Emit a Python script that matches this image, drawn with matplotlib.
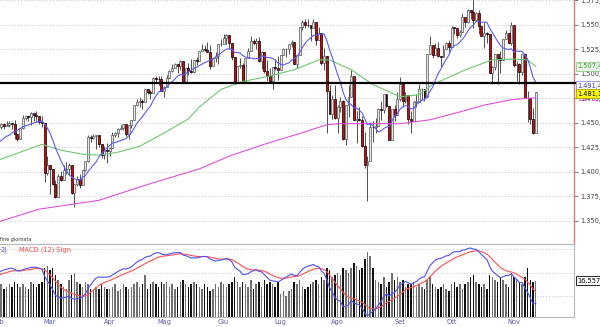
import numpy as np
import pandas as pd
import matplotlib
matplotlib.use("Agg")
import matplotlib.pyplot as plt
from matplotlib.ticker import FuncFormatter

# January closes, only used to warm up the moving average and the MACD
warmup_closes = [1416.6, 1418.3, 1409.7, 1412.8, 1412.1, 1414.9, 1423.8, 1430.7, 1431.9, 1430.6,
                 1426.4, 1430.5, 1423.0, 1428.0, 1440.1, 1423.9, 1422.2, 1420.6, 1428.8, 1438.2]

holidays = ['2007-02-19', '2007-04-06', '2007-05-28', '2007-07-04', '2007-09-03']
month_names = ['Feb', 'Mar', 'Apr', 'Mag', 'Giu', 'Lug', 'Ago', 'Set', 'Ott', 'Nov']

opens = [
    1438.2, 1445.9, 1448.4, 1447.0, 1448.0, 1450.0, 1448.3, 1438.1, 1433.4, 1444.3, 1455.3, 1456.8, 1455.5, 1459.7, 1457.6, 1456.4, 1451.2, 1449.4, 1399.0,
    1406.8, 1403.2, 1387.2, 1374.1, 1395.4, 1392.0, 1401.9, 1402.8, 1406.6, 1378.0, 1387.2, 1392.3, 1387.0, 1402.1, 1410.9, 1435.0, 1434.5, 1436.1, 1437.5, 1428.6, 1417.2, 1422.5,
    1420.9, 1424.6, 1437.8, 1439.4, 1443.8, 1444.6, 1448.4, 1438.9, 1447.8, 1452.9, 1468.3, 1471.5, 1472.5, 1470.7, 1484.4, 1480.9, 1480.4, 1495.4, 1494.3, 1494.1,
    1482.4, 1486.3, 1495.9, 1502.4, 1505.6, 1509.5, 1507.7, 1512.6, 1491.5, 1505.9, 1503.2, 1501.2, 1514.1, 1512.8, 1522.8, 1525.1, 1524.1, 1522.3, 1507.5, 1515.7, 1518.1, 1530.2,
    1530.6, 1536.3, 1539.2, 1531.0, 1517.4, 1490.7, 1507.7, 1509.1, 1493.0, 1515.7, 1523.0, 1532.9, 1531.1, 1533.7, 1512.8, 1522.2, 1502.6, 1497.7, 1492.9, 1506.3, 1505.7,
    1503.4, 1519.4, 1524.9, 1525.4, 1530.4, 1531.9, 1510.1, 1518.8, 1547.7, 1552.5, 1549.5, 1549.4, 1546.2, 1553.1, 1534.1, 1541.6, 1511.0, 1518.1, 1482.7, 1459.0, 1473.9,
    1455.3, 1465.8, 1472.2, 1433.1, 1467.7, 1476.7, 1497.5, 1453.1, 1453.6, 1452.9, 1426.5, 1406.7, 1411.3, 1445.9, 1445.6, 1447.1, 1464.1, 1462.5, 1479.4, 1466.8, 1432.4, 1463.8, 1457.6,
    1474.0, 1489.4, 1472.3, 1478.6, 1453.6, 1451.7, 1471.5, 1471.6, 1484.0, 1484.3, 1476.7, 1519.8, 1529.0, 1518.8, 1525.8, 1517.7, 1517.2, 1525.4, 1531.4,
    1526.8, 1547.0, 1546.6, 1539.6, 1542.8, 1557.6, 1552.6, 1565.2, 1562.5, 1554.4, 1561.8, 1548.7, 1538.5, 1541.2, 1540.1, 1500.6, 1506.3, 1519.6, 1515.9, 1514.4, 1535.3, 1541.0, 1531.0,
    1549.4, 1508.4, 1509.7, 1502.2, 1520.3, 1475.6, 1474.8, 1453.7, 1439.2]
highs = [
    1446.6, 1449.3, 1449.4, 1452.0, 1451.6, 1450.5, 1453.0, 1438.1, 1444.4, 1457.7, 1457.0, 1456.8, 1460.5, 1459.7, 1461.6, 1456.4, 1456.9, 1449.4, 1415.9,
    1406.8, 1403.2, 1391.9, 1397.9, 1401.2, 1407.1, 1410.1, 1409.3, 1406.6, 1388.1, 1395.7, 1397.5, 1403.2, 1411.5, 1437.8, 1437.7, 1438.9, 1437.7, 1437.5, 1428.6, 1426.2, 1429.2,
    1425.5, 1440.6, 1440.2, 1444.9, 1448.1, 1448.7, 1448.4, 1448.0, 1453.1, 1468.6, 1474.4, 1476.6, 1474.2, 1484.7, 1484.8, 1483.8, 1496.6, 1498.0, 1497.3, 1497.2,
    1487.3, 1499.1, 1503.3, 1510.3, 1511.0, 1509.5, 1513.8, 1512.6, 1506.2, 1510.9, 1514.8, 1514.2, 1517.1, 1522.8, 1529.9, 1529.2, 1532.4, 1529.3, 1517.4, 1521.8, 1530.2, 1535.6,
    1540.6, 1540.5, 1539.2, 1531.0, 1517.4, 1507.8, 1515.5, 1511.3, 1515.7, 1526.5, 1538.7, 1535.4, 1535.9, 1537.3, 1522.9, 1522.2, 1514.3, 1506.1, 1506.8, 1514.8, 1517.5,
    1519.4, 1526.0, 1526.6, 1530.4, 1534.3, 1531.9, 1519.4, 1547.9, 1555.1, 1555.9, 1555.3, 1549.4, 1555.9, 1553.1, 1547.2, 1541.6, 1526.0, 1518.1, 1488.5, 1477.9, 1488.3,
    1468.4, 1476.4, 1473.2, 1467.7, 1488.3, 1503.9, 1497.5, 1462.0, 1466.3, 1456.7, 1440.8, 1415.9, 1450.3, 1451.8, 1455.0, 1464.9, 1472.4, 1479.4, 1479.4, 1466.8, 1463.8, 1468.4, 1481.5,
    1496.4, 1489.4, 1481.5, 1478.6, 1462.0, 1472.5, 1479.5, 1489.6, 1485.9, 1484.3, 1519.9, 1538.7, 1529.1, 1530.9, 1532.0, 1518.3, 1529.4, 1532.5, 1533.8,
    1549.0, 1548.0, 1546.6, 1544.8, 1561.9, 1557.6, 1565.4, 1565.3, 1576.1, 1563.0, 1564.7, 1548.7, 1552.8, 1542.2, 1540.1, 1508.1, 1520.0, 1519.6, 1523.2, 1535.3, 1544.7, 1541.0, 1552.8,
    1549.4, 1513.2, 1510.8, 1520.5, 1520.3, 1482.5, 1474.8, 1464.9, 1481.4]
lows = [
    1437.9, 1443.9, 1443.9, 1446.4, 1446.0, 1443.4, 1433.4, 1431.6, 1433.2, 1443.6, 1453.2, 1451.6, 1447.9, 1452.0, 1450.5, 1448.4, 1445.5, 1389.4, 1396.7,
    1377.7, 1386.9, 1373.5, 1374.1, 1390.6, 1392.0, 1397.3, 1396.3, 1377.7, 1364.0, 1385.2, 1383.6, 1387.0, 1400.7, 1409.8, 1429.9, 1433.2, 1423.3, 1425.5, 1414.1, 1413.3, 1408.9,
    1416.4, 1424.6, 1435.1, 1436.0, 1443.3, 1443.0, 1436.2, 1433.9, 1444.5, 1452.9, 1467.2, 1466.4, 1464.5, 1470.7, 1479.3, 1473.7, 1480.4, 1491.5, 1488.7, 1482.3,
    1476.7, 1486.3, 1495.6, 1501.8, 1505.6, 1500.7, 1503.8, 1491.4, 1491.5, 1498.3, 1500.4, 1500.4, 1509.3, 1512.8, 1522.7, 1522.6, 1521.9, 1505.2, 1507.5, 1512.0, 1510.1, 1528.3,
    1530.6, 1530.6, 1525.6, 1514.0, 1490.4, 1490.7, 1505.8, 1492.9, 1492.7, 1515.7, 1523.0, 1529.3, 1525.1, 1512.4, 1504.8, 1500.7, 1492.7, 1490.5, 1484.2, 1503.4, 1493.6,
    1503.4, 1519.4, 1517.3, 1520.3, 1527.5, 1510.0, 1506.1, 1518.7, 1544.9, 1546.7, 1547.4, 1533.7, 1546.2, 1529.2, 1534.1, 1508.6, 1503.6, 1440.0, 1458.9, 1454.3, 1454.3,
    1439.6, 1460.6, 1432.8, 1427.4, 1455.8, 1476.7, 1453.1, 1429.7, 1451.5, 1424.9, 1404.4, 1370.6, 1411.3, 1430.5, 1439.8, 1447.1, 1453.3, 1460.0, 1465.9, 1432.0, 1432.0, 1451.3, 1457.6,
    1472.2, 1466.0, 1470.1, 1449.1, 1439.3, 1451.7, 1465.8, 1471.4, 1473.2, 1471.8, 1476.7, 1519.8, 1516.2, 1518.8, 1516.5, 1507.1, 1517.2, 1525.4, 1521.8,
    1526.8, 1540.4, 1536.3, 1537.6, 1542.8, 1547.8, 1551.4, 1555.5, 1546.7, 1554.4, 1540.8, 1537.9, 1526.0, 1530.9, 1500.3, 1489.6, 1503.6, 1489.6, 1500.5, 1514.4, 1535.3, 1529.9, 1529.4,
    1507.3, 1492.5, 1489.6, 1499.1, 1475.0, 1450.3, 1448.5, 1438.5, 1439.2]
closes = [
    1445.9, 1448.4, 1447.0, 1448.0, 1450.0, 1448.3, 1438.1, 1433.4, 1444.3, 1455.3, 1456.8, 1455.5, 1459.7, 1457.6, 1456.4, 1451.2, 1449.4, 1399.0, 1406.8,
    1403.2, 1387.2, 1374.1, 1395.4, 1392.0, 1401.9, 1402.8, 1406.6, 1378.0, 1387.2, 1392.3, 1387.0, 1402.1, 1410.9, 1435.0, 1434.5, 1436.1, 1437.5, 1428.6, 1417.2, 1422.5, 1420.9,
    1424.6, 1437.8, 1439.4, 1443.8, 1444.6, 1448.4, 1438.9, 1447.8, 1452.9, 1468.3, 1471.5, 1472.5, 1470.7, 1484.4, 1480.9, 1480.4, 1495.4, 1494.3, 1494.1, 1482.4,
    1486.3, 1495.9, 1502.4, 1505.6, 1509.5, 1507.7, 1512.6, 1491.5, 1505.9, 1503.2, 1501.2, 1514.1, 1512.8, 1522.8, 1525.1, 1524.1, 1522.3, 1507.5, 1515.7, 1518.1, 1530.2, 1530.6,
    1536.3, 1539.2, 1531.0, 1517.4, 1490.7, 1507.7, 1509.1, 1493.0, 1515.7, 1523.0, 1532.9, 1531.1, 1533.7, 1512.8, 1522.2, 1502.6, 1497.7, 1492.9, 1506.3, 1505.7, 1503.4,
    1519.4, 1524.9, 1525.4, 1530.4, 1531.9, 1510.1, 1518.8, 1547.7, 1552.5, 1549.5, 1549.4, 1546.2, 1553.1, 1534.1, 1541.6, 1511.0, 1518.1, 1482.7, 1459.0, 1473.9, 1455.3,
    1465.8, 1472.2, 1433.1, 1467.7, 1476.7, 1497.5, 1453.1, 1453.6, 1452.9, 1426.5, 1406.7, 1411.3, 1445.9, 1445.6, 1447.1, 1464.1, 1462.5, 1479.4, 1466.8, 1432.4, 1463.8, 1457.6, 1474.0,
    1489.4, 1472.3, 1478.6, 1453.6, 1451.7, 1471.5, 1471.6, 1484.0, 1484.3, 1476.7, 1519.8, 1529.0, 1518.8, 1525.8, 1517.7, 1517.2, 1525.4, 1531.4, 1526.8,
    1547.0, 1546.6, 1539.6, 1542.8, 1557.6, 1552.6, 1565.2, 1562.5, 1554.4, 1561.8, 1548.7, 1538.5, 1541.2, 1540.1, 1500.6, 1506.3, 1519.6, 1515.9, 1514.4, 1535.3, 1541.0, 1531.0, 1549.4,
    1508.4, 1509.7, 1502.2, 1520.3, 1475.6, 1474.8, 1453.7, 1439.2, 1481.05]

# volume, thousands
volumes = [
    14, 15, 13, 14, 15, 14, 16, 15, 14, 15, 14, 13, 16, 15, 14, 15, 16, 22, 23,
    21, 22, 19, 17, 15, 14, 13, 17, 19, 20, 16, 15, 14, 16, 15, 13, 12, 14, 13, 15, 14, 13,
    13, 14, 15, 12, 13, 15, 14, 13, 14, 15, 16, 14, 15, 19, 13, 15, 16, 15, 14, 16,
    15, 16, 14, 15, 13, 14, 16, 17, 15, 14, 15, 16, 15, 14, 13, 15, 14, 12, 13, 15, 14, 16,
    15, 14, 15, 16, 18, 16, 14, 16, 15, 14, 17, 13, 15, 16, 14, 17, 15, 16, 15, 14, 16,
    11, 12, 10, 12, 13, 16, 15, 17, 14, 13, 14, 15, 16, 17, 15, 18, 17, 22, 21, 18, 19,
    20, 19, 22, 21, 20, 22, 24, 23, 21, 22, 26, 29, 27, 22, 17, 16, 15, 18, 14, 16, 20, 17, 18,
    16, 17, 14, 15, 15, 16, 14, 15, 14, 13, 17, 18, 15, 14, 13, 14, 15, 13, 12,
    15, 16, 14, 15, 13, 15, 16, 18, 19, 16, 15, 14, 15, 13, 19, 18, 17, 16, 18, 17, 15, 14, 20,
    18, 17, 16, 15, 18, 22, 17, 16, 16.557]

# 50 and 200 day averages at a few sessions
green_idx = [0, 8, 16, 23, 31, 37, 44, 52, 62, 70, 74, 82, 90, 99, 109, 118, 122, 130, 138, 148, 155, 160, 173, 182, 190, 195, 198]
green_val = [1412, 1420, 1428, 1422, 1418, 1417, 1420, 1426, 1441, 1454, 1466, 1484, 1492, 1497, 1504, 1514, 1514, 1504, 1489, 1476.5, 1478.6, 1489, 1505, 1514, 1515, 1514, 1507.4]
pink_idx = [0, 15, 37, 56, 74, 86, 99, 111, 121, 126, 148, 159, 170, 179, 189, 198]
pink_val = [1349, 1362, 1371, 1388, 1403, 1417, 1429, 1439, 1448, 1449, 1449, 1453, 1461, 1468, 1473.5, 1475.5]

resistance = 1490.0

dates = pd.bdate_range('2007-02-01', '2007-11-13')
dates = dates[~dates.isin(pd.to_datetime(holidays))]
o, h, l, c = (np.array(a) for a in (opens, highs, lows, closes))
vol = np.array(volumes) * 1000
assert len(dates) == len(c) == len(o) == len(h) == len(l) == len(vol)
x = np.arange(len(c))
n0 = len(warmup_closes)
allc = pd.Series(warmup_closes + closes)
blue = allc.rolling(10).mean().values[n0:]
macd = allc.ewm(span=12, adjust=False).mean() - allc.ewm(span=26, adjust=False).mean()
signal = macd.ewm(span=9, adjust=False).mean()
macd, signal = macd.values[n0:], signal.values[n0:]


def it_num(v, dec):
    s = f"{v + 1e-9:,.{dec}f}"
    return s.replace(',', 'X').replace('.', ',').replace('X', '.')


W, H = 600, 327
fig = plt.figure(figsize=(6, 3.27), dpi=100)


def px_axes(x0, y0, x1, y1):
    return fig.add_axes([x0 / W, 1 - y1 / H, (x1 - x0) / W, (y1 - y0) / H])


ax = px_axes(0, 0, 574, 244)
axv = px_axes(0, 244, 574, 317)
xlim = (0.57, 212.1)
fs = 4.8

# --- price panel
up = c >= o
body = np.maximum(np.abs(c - o), 0.5)
bot = np.minimum(o, c)
ax.vlines(x, l, h, color='#333333', lw=0.6, zorder=3)
ax.bar(x[up], body[up], bottom=bot[up], width=0.72, color='#e6e6e6', edgecolor='#555555', lw=0.5, zorder=4)
ax.bar(x[~up], body[~up], bottom=bot[~up], width=0.72, color='#e00000', edgecolor='black', lw=0.5, zorder=4)
ax.plot(pink_idx, pink_val, color='#e050e0', lw=0.8, zorder=5)
ax.plot(green_idx, green_val, color='#70c870', lw=0.8, zorder=5)
ax.plot(x, blue, color='#5a5aff', lw=0.8, zorder=5)
ax.plot([0, W / 574], [resistance, resistance], transform=ax.get_yaxis_transform(),
        color='black', lw=1.6, clip_on=False, zorder=6)

ax.set_xlim(*xlim)
ax.set_ylim(1326.5, 1575.05)
ax.set_yticks(np.arange(1350, 1576, 25))
ax.yaxis.set_major_formatter(FuncFormatter(lambda v, p: it_num(v, 1)))
ax.yaxis.tick_right()
ax.tick_params(axis='y', direction='out', length=3, width=0.6, color='#606060',
               labelcolor='#404040', labelsize=fs, pad=1.5)
ax.set_xticks([])
ax.grid(axis='y', color='#c8c8c8', linestyle=(0, (1.5, 2)), lw=0.6)
for s in ('left', 'top', 'bottom'):
    ax.spines[s].set_visible(False)
ax.spines['right'].set_color('#e07878')
ax.spines['right'].set_linewidth(1.0)

# last-value boxes on the price scale
tr = ax.get_yaxis_transform()
ax.text(1.006, pink_val[-1] - 1.0, it_num(pink_val[-1], 1), transform=tr, fontsize=fs, color='#d040d0',
        va='center', ha='left', clip_on=False, zorder=7)
ax.text(1.006, green_val[-1], it_num(green_val[-1], 1), transform=tr, fontsize=fs, color='#40a040',
        va='center', ha='left', clip_on=False, zorder=7,
        bbox=dict(boxstyle='square,pad=0.2', fc='#e6f4e6', ec='#90c890', lw=0.6))
ax.text(1.006, blue[-1] - 3.5, it_num(blue[-1], 1), transform=tr, fontsize=fs, color='#4040c0',
        va='center', ha='left', clip_on=False, zorder=7,
        bbox=dict(boxstyle='square,pad=0.2', fc='white', ec='#9090e0', lw=0.6))
ax.text(1.006, c[-1] - 1.5, it_num(c[-1], 1), transform=tr, fontsize=fs, color='black',
        va='center', ha='left', clip_on=False, zorder=8,
        bbox=dict(boxstyle='square,pad=0.2', fc='#ffff00', ec='#a0a000', lw=0.6))

# --- volume + MACD panel
vcol = np.where(up, '#707070', '#111111')
axv.bar(x, vol, width=0.55, color=vcol, zorder=3)
axv.set_xlim(*xlim)
axv.set_ylim(1000, 32300)
axv.set_yticks([10000, 20000, 30000])
axv.yaxis.set_major_formatter(FuncFormatter(lambda v, p: it_num(v, 0)))
axv.yaxis.tick_right()
axv.tick_params(axis='y', direction='out', length=3, width=0.6, color='#606060',
                labelcolor='#404040', labelsize=fs, pad=1.5)
axv.set_xticks([])
axv.grid(axis='y', color='#c8c8c8', linestyle=(0, (1.5, 2)), lw=0.6)
axv.spines['left'].set_visible(False)
for s in ('top', 'right', 'bottom'):
    axv.spines[s].set_color('#b8b8b8')
    axv.spines[s].set_linewidth(0.8)
axv.text(1.006, vol[-1], it_num(vol[-1], 0), transform=axv.get_yaxis_transform(), fontsize=fs,
         color='black', va='center', ha='left', clip_on=False, zorder=7,
         bbox=dict(boxstyle='square,pad=0.2', fc='white', ec='black', lw=0.6))

ax2 = axv.twinx()
mn = min(macd.min(), signal.min())
mx = max(macd.max(), signal.max())
span = (mx - mn) / 0.93
ax2.set_ylim(mn - 0.015 * span, mn - 0.015 * span + span)
ax2.plot(x, signal, color='#ff5050', lw=0.8)
ax2.plot(x, macd, color='#5050ff', lw=0.8)
ax2.set_xlim(*xlim)
ax2.set_axis_off()

# month labels under the lower panel
first = pd.Series(x, index=dates).groupby(dates.to_period('M')).first()
for name, i in zip(month_names, first.values):
    axv.text(i, -0.075, name, transform=axv.get_xaxis_transform(), fontsize=fs,
             color='#5a5aa8', ha='center', va='center', clip_on=False)

fig.text(0.5 / W, 1 - 240 / H, 'fine giornata', fontsize=3.5, color='#303030',
         ha='left', va='center')
fig.text(0.5 / W, 1 - 249.5 / H, '2)', fontsize=fs, color='#4848ff', ha='left', va='center')
fig.text(19 / W, 1 - 249.5 / H, 'MACD (12) Sign', fontsize=fs, color='#ff4848', ha='left', va='center')

fig.savefig('out.png', dpi=100)
